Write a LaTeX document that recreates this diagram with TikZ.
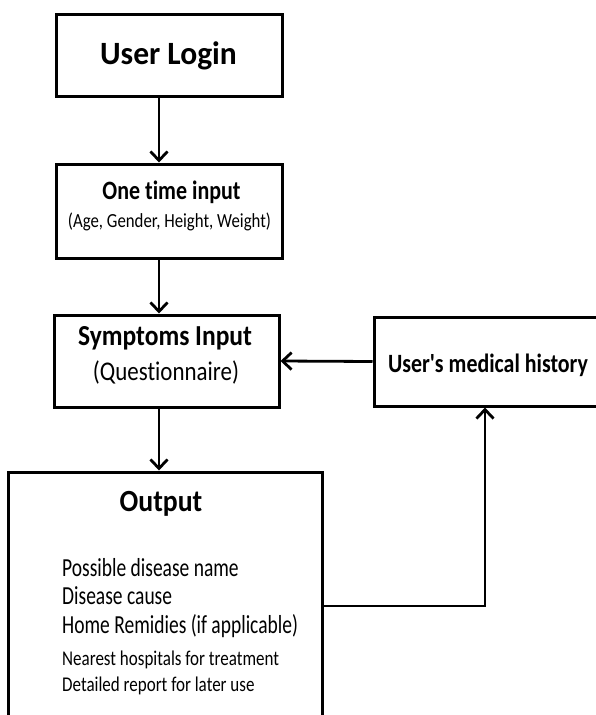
\documentclass[tikz,border=0pt]{standalone}
\usepackage{graphicx}
\usepackage{fontspec}
\newfontfamily\calfont{Carlito}[Ligatures=NoCommon]
\newcommand{\hsq}[2]{\scalebox{#1}[1]{#2}}
\usetikzlibrary{arrows.meta}
\begin{document}
\begin{tikzpicture}[x=1pt,y=-1pt,
  box/.style={draw=black, line width=3pt, inner sep=0pt, rectangle},
  conn/.style={line width=2.8pt, -{Straight Barb[length=9pt,width=17pt]}},
  lbl/.style={anchor=base, inner sep=0pt},
  item/.style={anchor=base west, inner sep=0pt},
  bf/.style={font={\calfont\bfseries\fontsize{#1}{#1}\selectfont}},
  rg/.style={font={\calfont\fontsize{#1}{#1}\selectfont}}]
\useasboundingbox (0,0) rectangle (596,715);
\clip (0,0) rectangle (596,715);
\fill[white] (0,0) rectangle (596,715);
% boxes
\node[box, minimum width=226pt, minimum height=82pt] (login) at (169,55) {};
\node[box, minimum width=226pt, minimum height=94pt] (once) at (169,211) {};
\node[box, minimum width=225pt, minimum height=92pt] (symp) at (166.5,361) {};
\node[box, minimum width=226pt, minimum height=89pt] (hist) at (487,361.5) {};
\node[box, minimum width=314pt, minimum height=246pt] (out) at (165,595) {};
% texts
\node[lbl, bf=32.5] (tlogin) at (168.5,64) {\hsq{0.97}{User Login}};
\node[lbl, bf=26.5] (tonce) at (171.5,199.5) {\hsq{0.83}{One time input}};
\node[lbl, rg=20] (tonce2) at (169.5,227.5) {\hsq{0.84}{(Age, Gender, Height, Weight)}};
\node[lbl, bf=29] (tsymp) at (165,345.5) {\hsq{0.88}{Symptoms Input}};
\node[lbl, rg=27] (tsymp2) at (166,380) {\hsq{0.85}{(Questionnaire)}};
\node[lbl, bf=26.4] (thist) at (488,372) {\hsq{0.83}{User's medical history}};
\node[lbl, bf=30.8] (tout) at (161,511.5) {\hsq{0.9}{Output}};
\node[item, rg=26] (o1) at (62,576) {\hsq{0.75}{Possible disease name}};
\node[item, rg=26] (o2) at (62,604.5) {\hsq{0.75}{Disease cause}};
\node[item, rg=26] (o3) at (62,633.5) {\hsq{0.75}{Home Remidies (if applicable)}};
\node[item, rg=21] (o4) at (62,665.5) {\hsq{0.81}{Nearest hospitals for treatment}};
\node[item, rg=21] (o5) at (62,691) {\hsq{0.81}{Detailed report for later use}};
% connectors
\draw[conn] ([xshift=-10pt]login.south) -- ([xshift=-10pt]login.south |- once.north);
\draw[conn] ([xshift=-10pt]once.south) -- ([xshift=-10pt]once.south |- symp.north);
\draw[conn] ([xshift=-7.5pt]symp.south) -- ([xshift=-7.5pt]symp.south |- out.north);
\draw[conn] (hist.west) -- (symp.east);
\draw[conn] ([yshift=-11pt]out.east) -| ([xshift=-2pt]hist.south);
\end{tikzpicture}
\end{document}
